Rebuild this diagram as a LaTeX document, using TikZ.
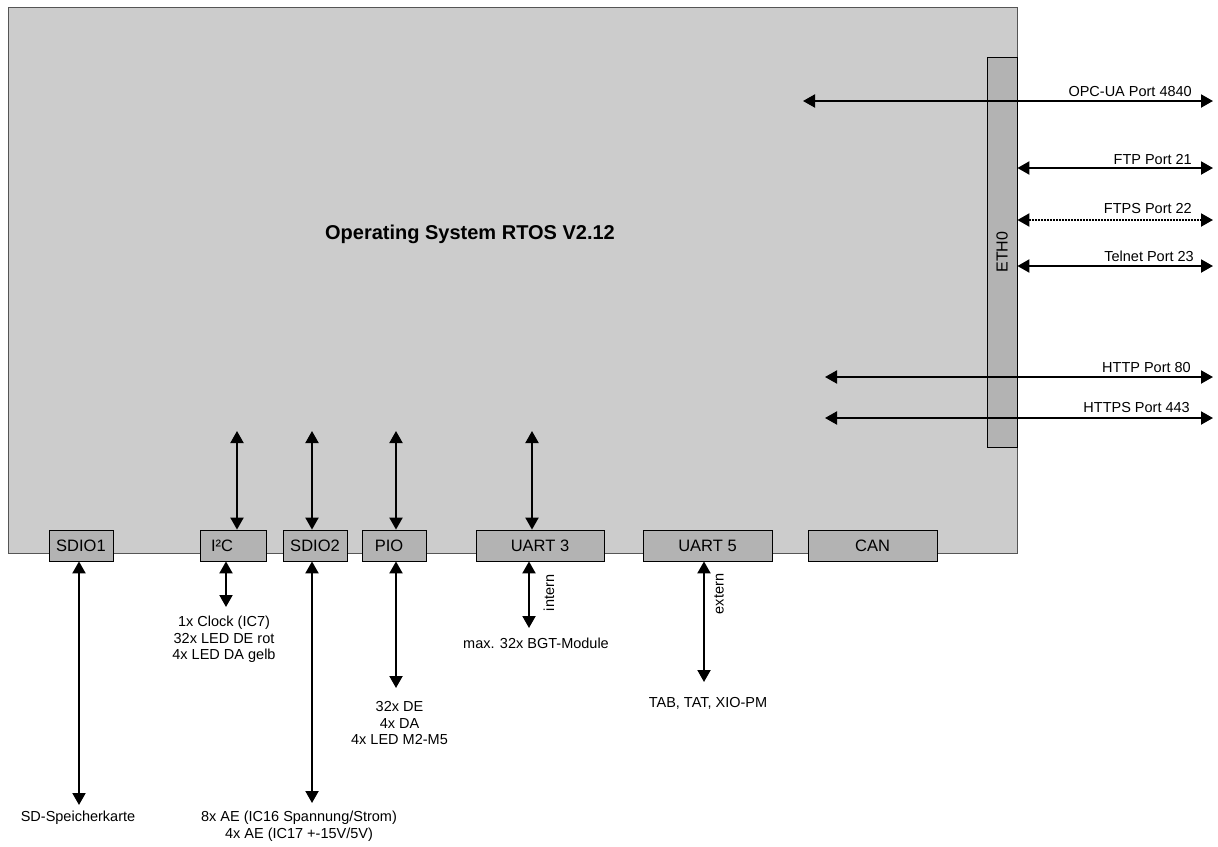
\documentclass[tikz,border=0pt]{standalone}
\usepackage{fontspec}
\setmainfont{Liberation Sans}
\usetikzlibrary{arrows.meta}
\definecolor{osgray}{HTML}{CCCCCC}
\definecolor{portgray}{HTML}{B3B3B3}
\definecolor{edgegray}{HTML}{555555}
\begin{document}
\begin{tikzpicture}[x=1pt,y=-1pt,
  osbox/.style={draw=edgegray, fill=osgray, line width=0.9pt, inner sep=0, anchor=north west},
  ethbox/.style={draw=black, fill=portgray, line width=0.8pt, inner sep=0},
  port/.style={draw=black, fill=portgray, line width=0.8pt, inner sep=0, minimum height=31pt, font=\fontsize{16.5}{18}\selectfont},
  lbl/.style={font=\fontsize{14.5}{16.5}\selectfont, align=center, inner sep=0},
  link/.style={line width=2pt, {Triangle[length=12pt,width=13pt]}-{Triangle[length=12pt,width=13pt]}},
  dotlink/.style={link, dash pattern=on 1.6pt off 1.4pt},
]
\useasboundingbox (0,0) rectangle (1218,846);

% main OS box
\node[osbox, minimum width=1009pt, minimum height=546pt] (os) at (8,7) {};
\node[font=\bfseries\fontsize{20}{24}\selectfont, inner sep=0] (title) at (470,234) {Operating System RTOS V2.12};

% ETH0
\node[ethbox, rotate=90, minimum width=390pt, minimum height=30pt, font=\fontsize{16}{18}\selectfont] (eth) at (1002,252) {ETH0};

% ports
\node[port, minimum width=64pt] (sdio1) at (81,545.5) {SDIO1};
\node[port, minimum width=66pt] (i2c) at (233,545.5) {};
\node[font=\fontsize{16.5}{18}\selectfont, inner sep=0] (i2ct) at (222,545.5) {I²C};
\node[port, minimum width=64pt] (sdio2) at (315,545.5) {SDIO2};
\node[port, minimum width=64pt] (pio) at (394,545.5) {};
\node[font=\fontsize{16.5}{18}\selectfont, inner sep=0] (piot) at (389,545.5) {PIO};
\node[port, minimum width=128pt] (uart3) at (540,545.5) {UART 3};
\node[port, minimum width=129pt] (uart5) at (707.5,545.5) {UART 5};
\node[port, minimum width=129pt] (can) at (872.5,545.5) {CAN};

% internal connectors
\coordinate (ti2c) at (237,431);
\coordinate (tsdio2) at (312,431);
\coordinate (tpio) at (396,431);
\coordinate (tuart3) at (532,431);
\draw[link] (ti2c) -- (ti2c |- i2c.north);
\draw[link] (tsdio2) -- (tsdio2 |- sdio2.north);
\draw[link] (tpio) -- (tpio |- pio.north);
\draw[link] (tuart3) -- (tuart3 |- uart3.north);

% external connectors below
\coordinate (bsdio1) at (79,805);
\coordinate (bi2c) at (226,607);
\coordinate (bsdio2) at (312,803);
\coordinate (bpio) at (396,688);
\coordinate (buart3) at (529,628);
\coordinate (buart5) at (704,682);
\draw[link] (bsdio1 |- sdio1.south) -- (bsdio1);
\draw[link] (bi2c |- i2c.south) -- (bi2c);
\draw[link] (bsdio2 |- sdio2.south) -- (bsdio2);
\draw[link] (bpio |- pio.south) -- (bpio);
\draw[link] (buart3 |- uart3.south) -- (buart3);
\draw[link] (buart5 |- uart5.south) -- (buart5);

\node[lbl, rotate=90] (intern) at (549,593) {intern};
\node[lbl, rotate=90] (extern) at (719,594) {extern};

% bottom labels
\node[lbl] (clock) at (224,639.5) {1x Clock (IC7)\\32x LED DE rot\\4x LED DA gelb};
\node[lbl] (piolbl) at (399.5,723) {32x DE\\4x DA\\4x LED M2-M5};
\node[lbl] (sd) at (78,818) {SD-Speicherkarte};
\node[lbl] (ae) at (299,826) {8x AE (IC16 Spannung/Strom)\\4x AE (IC17 +-15V/5V)};
\node[lbl] (bgt) at (536,643) {max. 32x BGT-Module};
\node[lbl] (tab) at (708,703) {TAB, TAT, XIO-PM};

% Ethernet connectors
\coordinate (lopc) at (803,101);
\coordinate (ropc) at (1213,101);
\coordinate (rftp) at (1213,168);
\coordinate (rftps) at (1213,220);
\coordinate (rtel) at (1213,266);
\coordinate (lhttp) at (825,377);
\coordinate (rhttp) at (1213,377);
\coordinate (lhttps) at (825,418);
\coordinate (rhttps) at (1213,418);
\draw[link] (lopc) -- (ropc);
\draw[link] (rftp -| eth.south) -- (rftp);
\draw[dotlink] (rftps -| eth.south) -- (rftps);
\draw[link] (rtel -| eth.south) -- (rtel);
\draw[link] (lhttp) -- (rhttp);
\draw[link] (lhttps) -- (rhttps);

\node[lbl, anchor=base east] (opcl) at (1192,96) {OPC-UA Port 4840};
\node[lbl, anchor=base east] (ftpl) at (1192,164) {FTP Port 21};
\node[lbl, anchor=base east] (ftpsl) at (1192,213) {FTPS Port 22};
\node[lbl, anchor=base east] (tell) at (1194,261) {Telnet Port 23};
\node[lbl, anchor=base east] (httpl) at (1191,372) {HTTP Port 80};
\node[lbl, anchor=base east] (httpsl) at (1190,412) {HTTPS Port 443};
\end{tikzpicture}
\end{document}
